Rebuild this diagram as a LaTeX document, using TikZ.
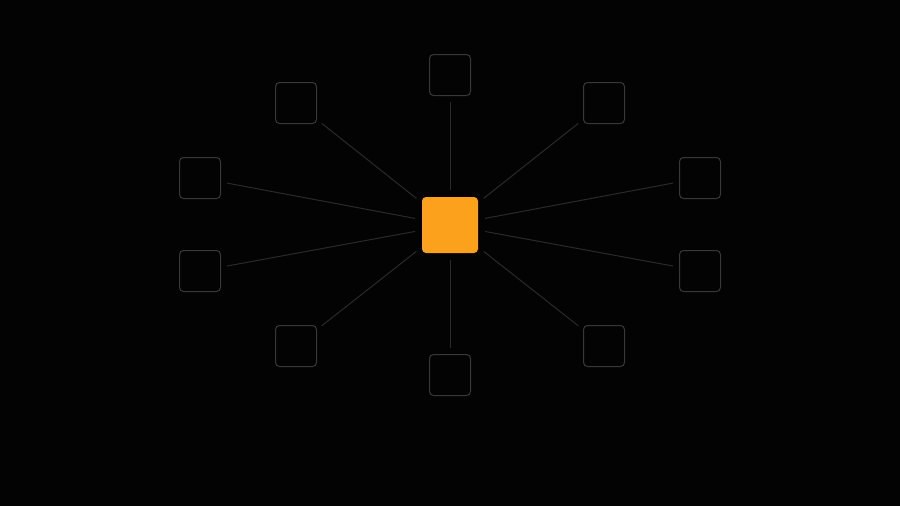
\documentclass[tikz,border=0pt]{standalone}
\usetikzlibrary{positioning}
\definecolor{bg}{HTML}{030304}
\definecolor{hub}{HTML}{FCA11C}
\definecolor{boxline}{HTML}{38383A}
\definecolor{spoke}{HTML}{2A2A2C}
\begin{document}
\begin{tikzpicture}[x=1pt,y=-1pt,
  hubbox/.style={fill=hub,draw=none,minimum size=56pt,inner sep=0pt,rounded corners=4pt},
  leafbox/.style={draw=boxline,line width=1pt,fill=bg,minimum size=41pt,inner sep=0pt,rounded corners=4pt},
  spokeline/.style={draw=spoke,line width=1pt,shorten <=7pt,shorten >=6pt}]
\fill[bg] (0,0) rectangle (900,506);
\useasboundingbox (0,0) rectangle (900,506);
\node[hubbox] (c) at (450,225) {};
\node[leafbox] (n1) at (450,75) {};
\node[leafbox] (n2) at (604,103) {};
\node[leafbox] (n3) at (700,178) {};
\node[leafbox] (n4) at (700,271) {};
\node[leafbox] (n5) at (604,346) {};
\node[leafbox] (n6) at (450,375) {};
\node[leafbox] (n7) at (296,346) {};
\node[leafbox] (n8) at (200,271) {};
\node[leafbox] (n9) at (200,178) {};
\node[leafbox] (n10) at (296,103) {};
\foreach \n in {n1,n2,n3,n4,n5,n6,n7,n8,n9,n10}
  \draw[spokeline] (c) -- (\n);
\end{tikzpicture}
\end{document}
